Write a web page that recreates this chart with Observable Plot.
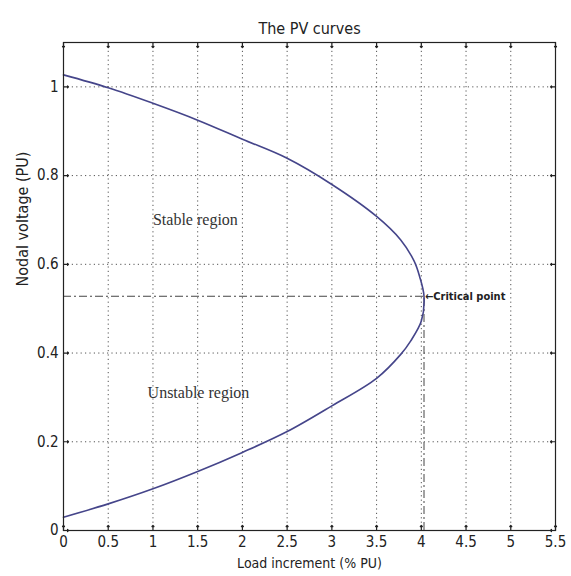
<!DOCTYPE html>
<html>
<head>
<meta charset="utf-8">
<script src="https://cdn.jsdelivr.net/npm/d3@7"></script>
<script src="https://cdn.jsdelivr.net/npm/@observablehq/plot@0.6"></script>
<style>
  html, body { margin: 0; padding: 0; background: #fff; }
</style>
</head>
<body>
<div id="chart"></div>
<script>
const titleText = "The PV curves";
const xLabel = "Load increment (% PU)";
const yLabel = "Nodal voltage (PU)";
const xTicks = [0, 0.5, 1, 1.5, 2, 2.5, 3, 3.5, 4, 4.5, 5, 5.5];
const yTicks = [0, 0.2, 0.4, 0.6, 0.8, 1];

// upper (stable) branch, from no load to the nose
const loadUpper = [0, 0.5, 1.0, 1.5, 2.0, 2.5, 3.0, 3.5, 3.77, 3.92, 3.98, 4.03];
const voltUpper = [1.027, 0.998, 0.963, 0.925, 0.882, 0.839, 0.780, 0.708, 0.655, 0.607, 0.573, 0.528];
// lower (unstable) branch, from the nose back to no load
const loadLower = [4.00, 3.88, 3.77, 3.5, 3.0, 2.5, 2.0, 1.5, 1.0, 0.5, 0];
const voltLower = [0.472, 0.427, 0.397, 0.343, 0.281, 0.223, 0.176, 0.133, 0.094, 0.060, 0.030];

const critLoad = 4.03;
const critVolt = 0.528;
const critLabel = "←Critical point";

const regionLabels = ["Stable region", "Unstable region"];
const regionX = [1.0, 0.94];
const regionY = [0.70, 0.31];

const curve = [
  ...loadUpper.map((x, i) => ({x, y: voltUpper[i]})),
  ...loadLower.map((x, i) => ({x, y: voltLower[i]}))
];
const regions = regionLabels.map((t, i) => ({t, x: regionX[i], y: regionY[i]}));

const sans = "'Liberation Sans Narrow', 'DejaVu Sans Condensed', 'Arial Narrow', 'Liberation Sans', sans-serif";
const gridColor = "#555";
const axisColor = "#222";
const fmt = d => String(d);

const chart = Plot.plot({
  width: 571,
  height: 576,
  marginLeft: 63,
  marginRight: 16,
  marginTop: 42,
  marginBottom: 46,
  style: {fontFamily: sans, background: "#fff", color: "#222"},
  x: {domain: [0, 5.5], ticks: xTicks, label: null},
  y: {domain: [0, 1.1], ticks: yTicks, label: null},
  marks: [
    Plot.gridX(xTicks, {stroke: gridColor, strokeOpacity: 1, strokeDasharray: "1.2,3.2"}),
    Plot.gridY(yTicks, {stroke: gridColor, strokeOpacity: 1, strokeDasharray: "1.2,3.2"}),
    // inward ticks on all four sides
    Plot.vector(xTicks, {x: d => d, y: 0, length: 5, rotate: 0, anchor: "start", stroke: axisColor, strokeWidth: 1.2}),
    Plot.vector(xTicks, {x: d => d, y: 1.1, length: 5, rotate: 180, anchor: "start", stroke: axisColor, strokeWidth: 1.2}),
    Plot.vector(yTicks, {x: 0, y: d => d, length: 5, rotate: 90, anchor: "start", stroke: axisColor, strokeWidth: 1.2}),
    Plot.vector(yTicks, {x: 5.5, y: d => d, length: 5, rotate: -90, anchor: "start", stroke: axisColor, strokeWidth: 1.2}),
    Plot.axisX(xTicks, {tickSize: 0, tickPadding: 6, fontSize: 15, tickFormat: fmt, label: null, fill: "#222"}),
    Plot.axisY(yTicks, {tickSize: 0, tickPadding: 5, fontSize: 15, tickFormat: fmt, label: null, fill: "#222"}),
    // critical point guide lines
    Plot.ruleY([critVolt], {x1: 0, x2: critLoad, stroke: "#444", strokeDasharray: "8,3,2,3"}),
    Plot.ruleX([critLoad], {y1: 0, y2: critVolt, stroke: "#444", strokeDasharray: "8,3,2,3"}),
    Plot.line(curve, {x: "x", y: "y", curve: "catmull-rom", stroke: "#45458a", strokeWidth: 1.6}),
    Plot.text([critLabel], {x: critLoad, y: critVolt, text: d => d, textAnchor: "start", dx: 1, fontSize: 11, fontWeight: "bold", fill: "#222"}),
    Plot.text(regions, {x: "x", y: "y", text: "t", textAnchor: "start", fontFamily: "'Liberation Serif', serif", fontSize: 16, fill: "#333"}),
    Plot.frame({stroke: axisColor, strokeWidth: 1.2}),
    Plot.text([titleText], {frameAnchor: "top", dy: -20, fontSize: 16, fill: "#222"}),
    Plot.text([xLabel], {frameAnchor: "bottom", dy: 37, fontSize: 14, fill: "#222"}),
    Plot.text([yLabel], {frameAnchor: "left", dx: -41, rotate: -90, fontSize: 16, fill: "#222"})
  ]
});
document.getElementById("chart").appendChild(chart);
</script>
</body>
</html>
